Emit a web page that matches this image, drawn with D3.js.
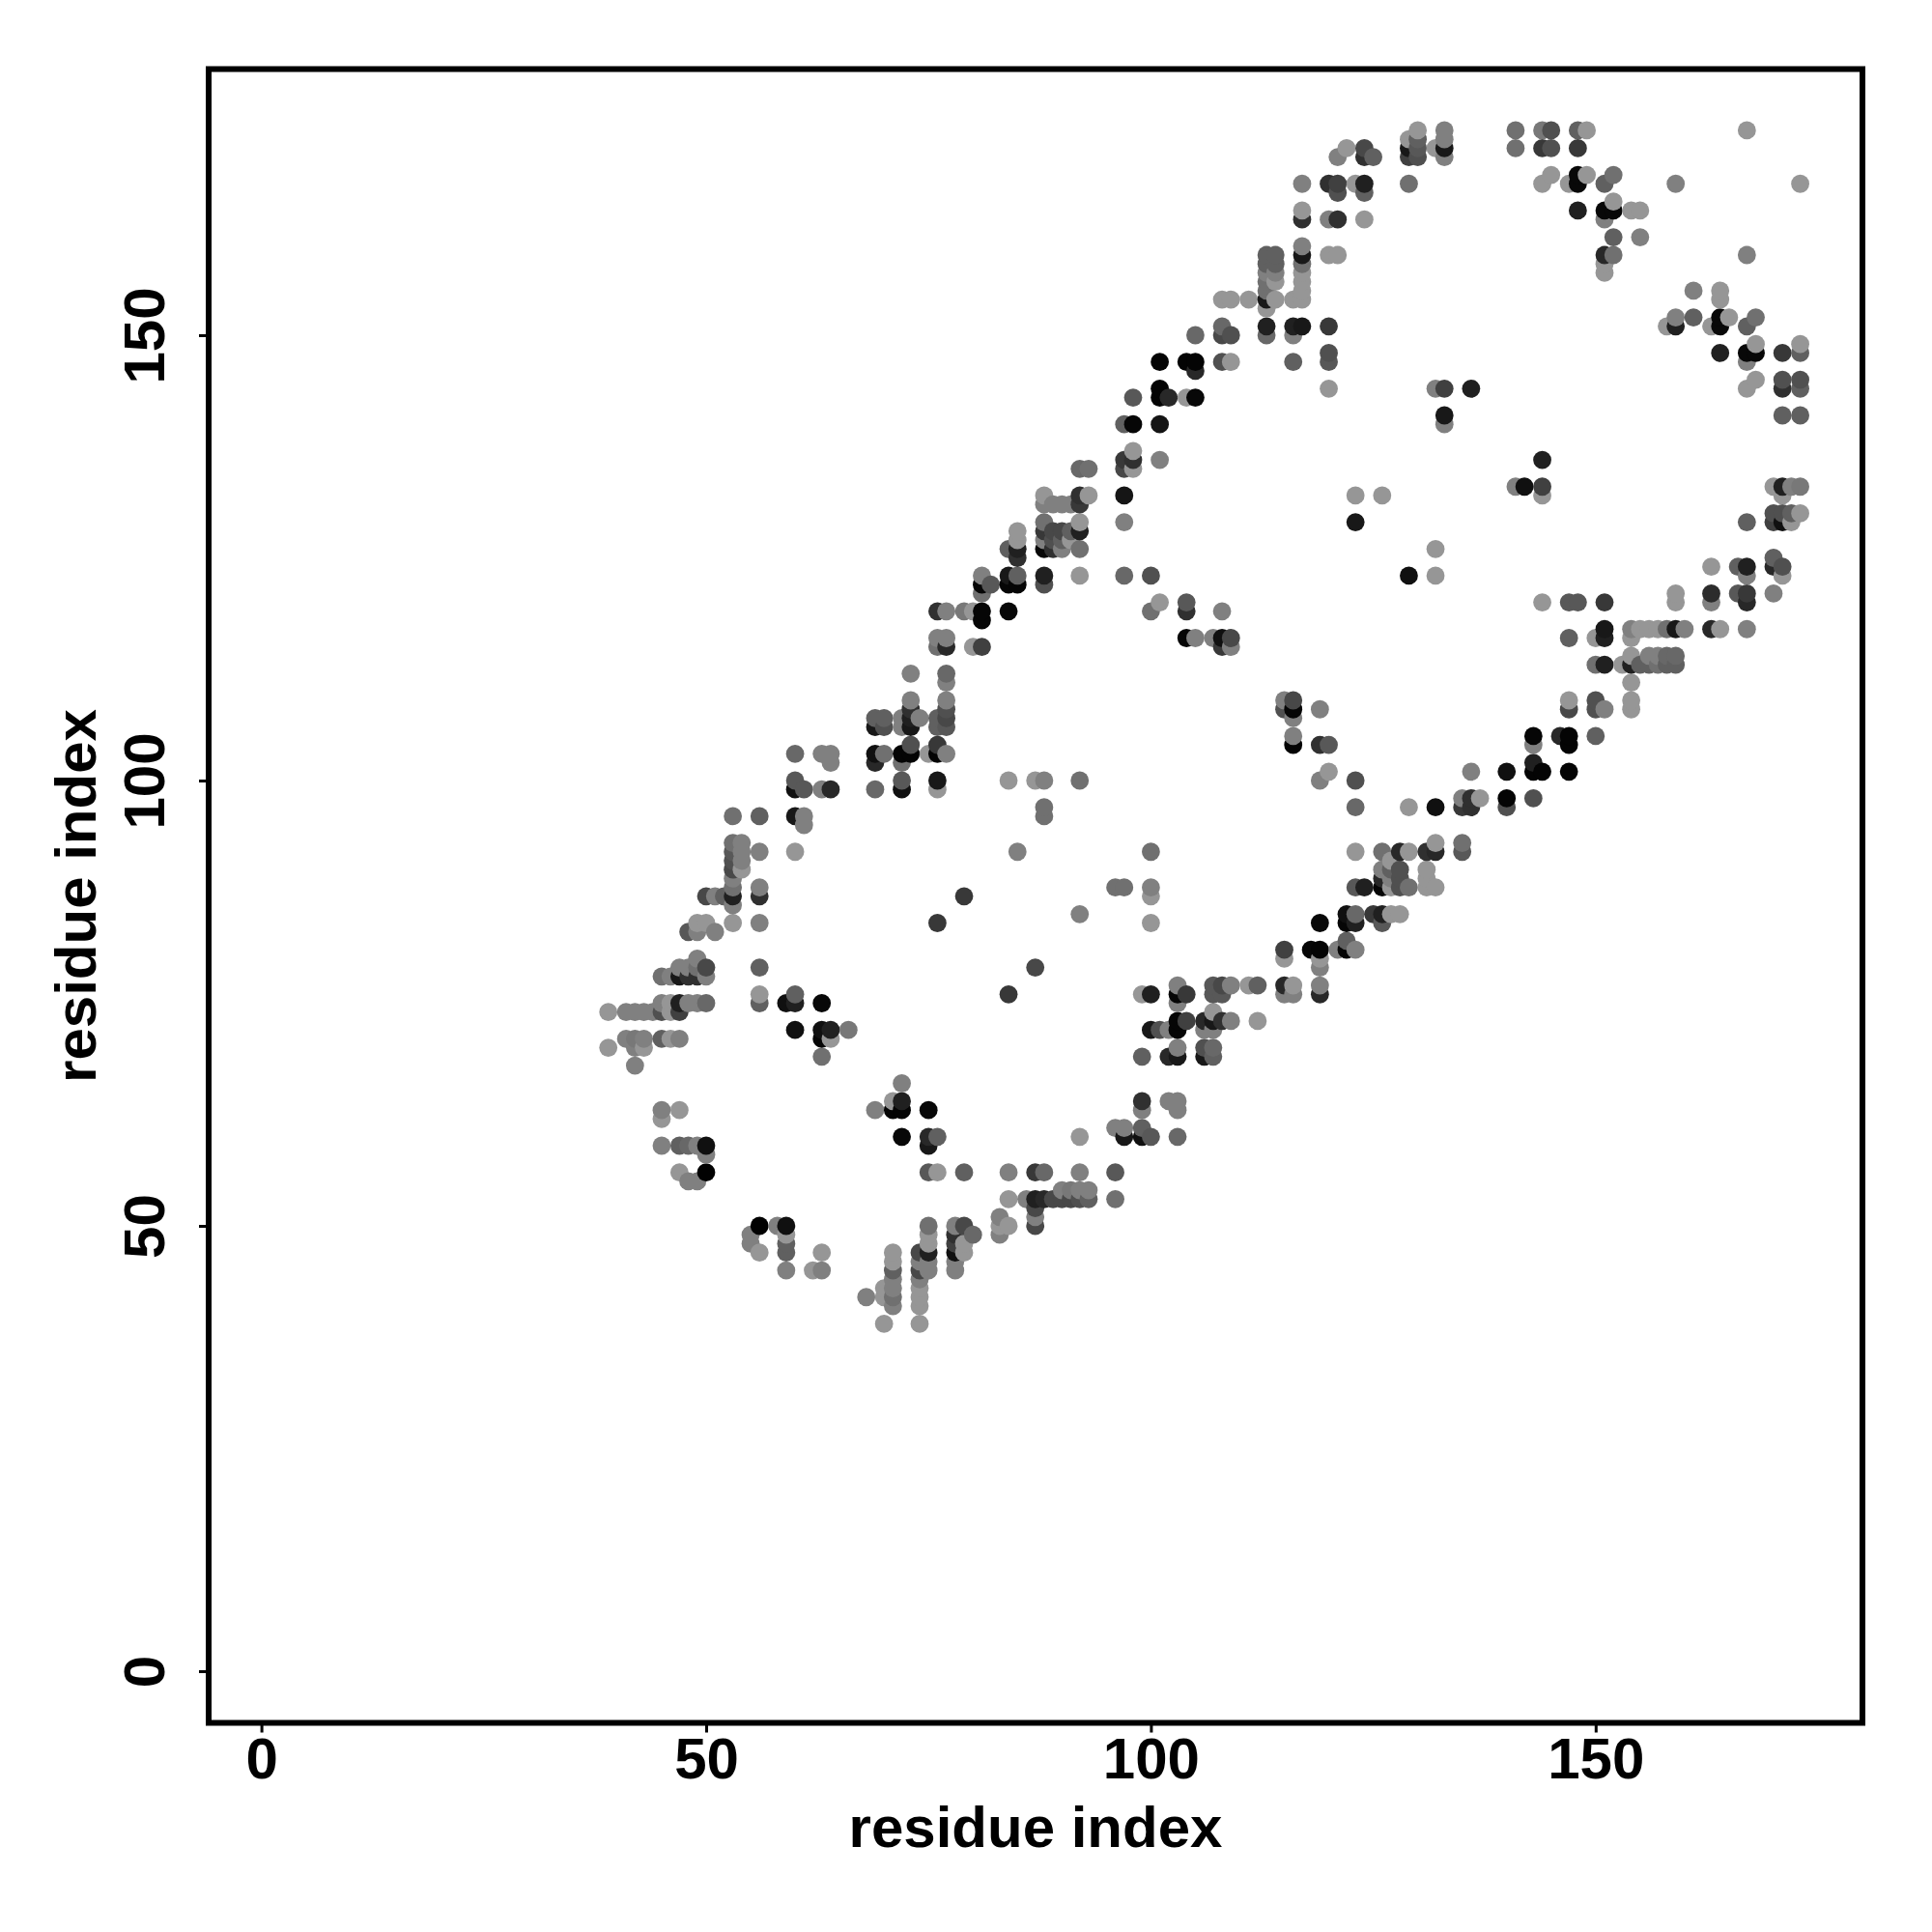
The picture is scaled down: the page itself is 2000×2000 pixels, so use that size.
<!DOCTYPE html>
<html><head><meta charset="utf-8">
<script src="https://cdn.jsdelivr.net/npm/d3@7"></script>
<style>html,body{margin:0;background:#fff}svg{display:block}text{font-family:"Liberation Sans",Arial,sans-serif;font-weight:700;fill:#000}</style>
</head><body><svg id="c" width="2000" height="2000"></svg>
<script>
const L=0x96,M=0x80;
const xTicks=[0,50,100,150], yTicks=[0,50,100,150];
const xTitle="residue index", yTitle="residue index";
// each row: [residue j, [residue i, gray level, residue i, gray level, ...]]
const contactRows=[
[173,[130,L,133,M,141,0x70,144,0x78,145,0x50,148,0x60,149,L,167,L]],
[172,[129,L,130,0x60,133,M]],
[171,[122,L,124,0x48,129,0x18,130,0x58,132,L,133,0x18,141,0x70,144,0x38,145,0x50,148,0x38]],
[170,[121,M,124,0x30,125,0x60,129,0x40,130,0x50,133,M]],
[168,[145,L,148,0x08,149,L,152,0x70]],
[167,[117,M,120,0x30,121,0x40,123,L,124,0x20,129,0x70,144,L,147,L,148,0x08,151,0x60,159,M,173,L]],
[166,[121,0x50,124,0x60]],
[165,[152,L]],
[164,[117,L,148,0x20,151,0x08,152,0x08,154,L,155,L]],
[163,[117,0x30,120,M,121,0x30,124,L,151,M]],
[161,[152,0x60,155,M]],
[160,[117,M]],
[159,[113,0x60,114,0x60,117,0x18,120,L,121,L,151,0x28,152,0x70,167,M]],
[158,[113,0x60,114,0x60,117,0x70,151,L]],
[157,[113,M,114,M,117,L,151,L]],
[156,[113,0x70,114,L,117,L]],
[155,[113,0x70,117,L,161,M,164,L]],
[154,[108,L,109,L,111,L,113,0x18,114,L,116,L,117,L,164,L]],
[153,[113,L]],
[152,[159,M,161,0x60,164,0x08,165,L,168,0x70]],
[151,[108,0x68,113,0x20,116,0x20,117,0x18,120,0x38,158,L,159,0x20,163,L,164,0x08,167,0x60]],
[150,[105,0x68,108,0x48,109,0x50,113,0x68,116,M]],
[149,[168,L,173,L]],
[148,[120,0x50,164,0x20,167,0x08,168,0x08,171,0x38,173,0x60]],
[147,[101,0x04,104,0x04,105,0x04,108,0x50,109,L,116,0x60,120,0x58,167,M]],
[146,[105,0x28]],
[145,[168,L,171,0x50,173,0x50]],
[144,[101,0x04,120,L,132,M,133,0x40,136,0x20,167,L,171,0x30,173,0x60]],
[143,[98,0x58,101,0x04,102,0x28,104,L,105,0x08]],
[141,[133,0x18,171,0x60,173,0x60]],
[140,[97,0x60,98,0x06,101,0x14,133,M]],
[137,[98,L]],
[136,[97,0x38,98,0x30,101,M,144,0x20]],
[135,[92,0x68,93,0x70,97,0x48,98,L]],
[133,[141,M,142,0x10,144,0x40,170,L,171,0x20,172,M,173,0x78]],
[132,[88,L,92,0x30,93,L,97,0x15,123,L,126,L,144,L,171,L]],
[131,[88,M,89,M,90,M,91,M,92,0x38]],
[130,[170,0x50,171,0x50,172,0x60,173,L]],
[129,[88,0x70,92,L,97,M,123,0x18,167,0x60,170,0x40,171,0x10,172,L]],
[128,[85,L,88,0x38,89,0x48,90,0x48,91,0x60,92,0x20]],
[127,[85,L,88,M,89,0x50,90,0x60,91,L]],
[126,[84,0x60,85,0x20,88,0x08,89,0x30,90,M,92,0x70,132,L]],
[125,[85,0x30,170,0x60]],
[124,[163,L,166,0x60,167,0x20,170,0x28,171,0x50]],
[123,[81,M,84,0x18,85,0x60,88,0x20,92,L,97,0x68,100,0x50,129,0x10,132,L,167,M,171,L]],
[122,[81,0x06,82,0x58,84,0x06,85,0x06,88,0x50]],
[121,[81,0x70,159,L,163,0x2c,166,0x58,167,0x38,170,M]],
[120,[101,L,104,0x58,144,L,147,0x58,148,0x58,151,0x38,159,L,163,M,167,0x28]],
[119,[76,0x30,77,M,79,0x78,80,L,81,0x06,84,0x08,100,0x70,104,0x30,108,M]],
[118,[81,0x06]],
[117,[151,0x18,154,M,155,L,156,L,157,L,158,0x70,159,0x18,160,M,163,0x28,164,L,167,M]],
[116,[76,M,77,M,104,0x06,105,M,107,M,108,0x10,109,0x48,147,0x60,150,L,151,0x20,154,L]],
[115,[76,0x70,77,0x28,80,L,81,0x40,108,0x38,109,M]],
[114,[154,L,156,M,157,M,158,0x68,159,0x68]],
[113,[150,0x70,151,0x20,153,L,154,0x20,155,0x60,156,0x60,157,0x70,158,0x60,159,0x60]],
[112,[73,M,77,0x68]],
[111,[77,M,154,L]],
[109,[73,M,77,M,115,M,116,0x48,147,L,150,0x50,154,L]],
[108,[73,0x30,77,0x50,115,0x50,116,0x06,119,M,147,0x48,150,0x50,151,M,154,L]],
[107,[69,0x60,70,0x60,72,M,73,0x20,74,M,76,0x60,77,0x48,116,M]],
[106,[69,0x18,70,0x50,72,M,73,0x18,76,0x60,77,0x58]],
[105,[116,M,143,0x06,146,0x28,147,0x04,150,0x60]],
[104,[73,0x50,76,0x38,116,0x04,119,0x30,120,0x58,143,M,147,0x04]],
[103,[60,0x68,63,M,64,M,69,0x10,70,0x70,72,0x04,73,0x04,75,L,76,0x04,77,M]],
[102,[64,M,69,0x28,72,0x70,143,0x20]],
[101,[120,L,136,M,140,0x10,143,0x04,144,0x04,147,0x04]],
[100,[60,0x58,72,0x58,76,0x18,84,L,87,L,88,M,92,0x70,119,M,123,0x50]],
[99,[60,0x10,61,0x58,63,M,64,0x28,69,0x68,72,0x10,76,L]],
[98,[135,M,136,0x30,137,L,140,0x04,143,0x50]],
[97,[88,0x70,123,0x68,129,L,132,0x10,135,0x38,136,0x30,140,0x50]],
[96,[53,0x70,56,0x60,60,0x18,61,M,88,0x70]],
[95,[61,M]],
[93,[53,0x70,54,M,132,L,135,0x70]],
[92,[53,0x58,54,M,56,M,60,L,85,M,100,0x70,123,L,126,0x70,128,0x28,129,L,131,0x30,132,0x28,135,0x58]],
[91,[53,0x50,54,M,127,L]],
[90,[53,0x48,54,L,126,M,127,0x60,128,0x50,131,L]],
[89,[53,M,126,0x28,127,M,128,0x50,131,L]],
[88,[53,0x70,56,M,96,0x70,97,0x70,100,M,123,0x58,124,0x20,126,0x06,127,L,128,0x50,129,0x70,131,L,132,L]],
[87,[50,0x48,51,M,52,0x60,53,0x20,56,0x30,79,0x38,100,L]],
[86,[53,M]],
[85,[92,M,122,0x10,123,0x68,125,0x38,126,0x20,127,L,128,L]],
[84,[49,L,50,L,53,L,56,M,76,0x38,100,L,119,0x08,122,0x06,123,0x20,126,0x58]],
[83,[48,0x58,49,M,51,M]],
[82,[122,0x60]],
[81,[115,0x40,118,0x06,119,0x04,121,M,122,0x06,123,M]],
[80,[49,M,115,L,119,L]],
[79,[47,M,48,M,49,0x70,50,0x48,56,0x60,87,0x48,119,M]],
[78,[45,0x70,46,M,47,0x18,48,0x30,49,0x30,50,M]],
[77,[103,M,107,0x58,108,0x48,109,M,111,L,112,0x60,115,0x28,116,L,119,M]],
[76,[56,L,60,0x60,84,0x38,99,L,100,0x20,103,0x06,104,0x38,107,0x58,108,0x58,115,M,116,M,119,0x28]],
[75,[45,M,46,L,47,0x20,48,M,49,M,50,0x68,56,0x60,59,0x10,60,0x20,63,0x08,103,M]],
[74,[39,L,41,M,42,M,43,M,44,M,45,0x50,46,L,47,0x40,107,L]],
[73,[103,0x06,104,0x40,106,0x28,107,0x18,108,0x30,109,M,112,L]],
[72,[60,0x10,63,0x10,64,0x20,66,0x78,100,0x18,101,0x50,102,M,103,0x06,106,M,107,M]],
[71,[41,M,42,0x78,43,M,45,0x60,46,L,47,M,63,0x06,64,L]],
[70,[39,L,42,M,43,L,103,M,106,0x50,107,0x68]],
[69,[63,0x70,99,0x60,102,0x28,103,0x18,106,0x18,107,0x60]],
[68,[42,M]],
[66,[72,M]],
[64,[71,L,72,0x20,99,0x30,102,M,103,M]],
[63,[45,M,47,L,69,M,71,0x04,72,0x04,75,0x08,99,M,103,M]],
[62,[45,L]],
[61,[96,M,97,M,99,0x60]],
[60,[72,0x08,75,0x28,76,0x60,92,L,97,0x18,99,0x10,100,0x58,103,0x68]],
[59,[45,M,47,0x60,48,0x68,49,M,50,0x10,75,0x18]],
[58,[50,M]],
[56,[47,L,50,0x02,75,0x58,76,L,79,0x60,84,M,87,0x38,88,0x68,92,M,96,0x58]],
[55,[48,M,49,M]],
[54,[90,M,91,0x78,92,M,93,M]],
[53,[84,L,86,M,87,0x20,88,0x28,89,0x48,90,0x48,91,0x48,92,0x50,93,0x60,96,0x70]],
[52,[87,0x48]],
[51,[83,M,87,M]],
[50,[56,0x02,58,M,59,0x10,75,0x70,78,M,79,0x48,83,L,84,L,87,0x48]],
[49,[55,M,59,L,75,L,78,0x30,80,0x68,83,M]],
[48,[55,M,59,0x60,75,L,78,0x40,79,L]],
[47,[56,L,59,0x60,63,L,71,L,74,0x48,75,0x20,78,0x10,79,L]],
[46,[71,L,74,M,75,M,78,M]],
[45,[59,M,62,L,63,M,71,0x60,74,0x48,75,M,78,M]],
[44,[71,M,74,M]],
[43,[70,L,71,M,74,L]],
[42,[68,M,70,L,71,0x70,74,L]],
[41,[71,M,74,L]],
[39,[70,L,74,L]]
];
const contacts=[];
contactRows.forEach(([j,cells])=>{for(let k=0;k<cells.length;k+=2)contacts.push({i:cells[k],j,g:cells[k+1]});});
contacts.sort((a,b)=>d3.ascending(a.i,b.i)||d3.ascending(a.j,b.j));

const box={left:216,right:1928,top:71.5,bottom:1783.5};
const x=d3.scaleLinear().domain([0,150]).range([270.6,1651.8]);
const y=d3.scaleLinear().domain([0,150]).range([1730,347]);
const svg=d3.select("#c");
svg.append("rect").attr("width",2000).attr("height",2000).attr("fill","#fff");
svg.append("g").selectAll("circle").data(contacts).join("circle")
 .attr("cx",d=>x(d.i)).attr("cy",d=>y(d.j)).attr("r",9.4)
 .attr("fill",d=>d3.rgb(d.g,d.g,d.g).formatHex());

const gx=svg.append("g").attr("transform",`translate(0,${box.bottom})`)
 .call(d3.axisBottom(x).tickValues(xTicks).tickSize(10).tickPadding(0).tickFormat(d3.format("d")));
const gy=svg.append("g").attr("transform",`translate(${box.left},0)`)
 .call(d3.axisLeft(y).tickValues(yTicks).tickSize(10).tickFormat(d3.format("d")));
[gx,gy].forEach(g=>{g.select(".domain").remove();g.selectAll("line").attr("stroke","#000").attr("stroke-width",3);});
gx.selectAll("text").attr("y",57).attr("dy",0).attr("font-size",60).attr("text-anchor","middle").style("font-family",'"Liberation Sans"');
gy.selectAll("text").attr("x",null).attr("dy",0).attr("font-size",60).attr("text-anchor","middle").style("font-family",'"Liberation Sans"')
 .attr("transform","translate(-46,0) rotate(-90)");
gx.attr("font-size",null);gy.attr("font-size",null);

svg.append("rect").attr("x",box.left).attr("y",box.top).attr("width",box.right-box.left).attr("height",box.bottom-box.top)
 .attr("fill","none").attr("stroke","#000").attr("stroke-width",6);
svg.append("text").attr("x",(box.left+box.right)/2).attr("y",1912).attr("text-anchor","middle").attr("font-size",60).text(xTitle);
svg.append("text").attr("transform",`translate(99,${(box.top+box.bottom)/2}) rotate(-90)`).attr("text-anchor","middle").attr("font-size",60).text(yTitle);
</script></body></html>
